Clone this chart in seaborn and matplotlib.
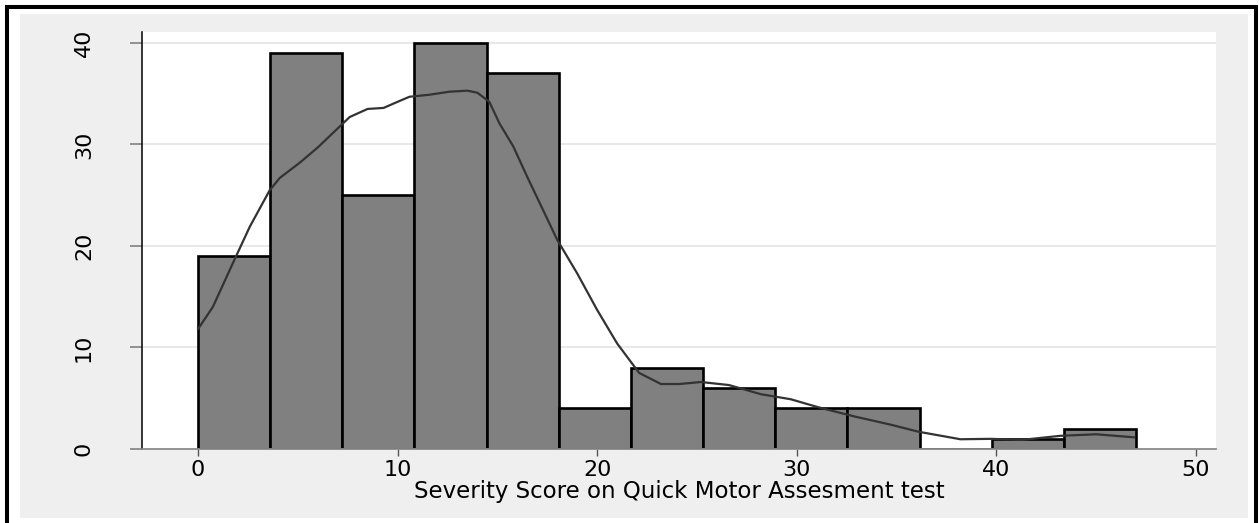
import numpy as np
import pandas as pd
import seaborn as sns
import matplotlib.pyplot as plt
from matplotlib.patches import Rectangle

# Histogram: 13 bins between min and max score
score_min, score_max, n_bins = 0, 47, 13
counts = [19, 39, 25, 40, 37, 4, 8, 6, 4, 4, 0, 1, 2]

# Kernel density overlay (scaled to frequency)
kde_x = [0.0, 0.75, 1.75, 2.6, 3.6, 4.1, 5.1, 6.0, 6.8, 7.6, 8.5, 9.3, 10.0,
         10.6, 11.6, 12.6, 13.5, 14.0, 14.6, 15.1, 15.8, 16.5, 17.3, 18.0,
         19.0, 20.0, 21.0, 22.1, 23.2, 24.1, 25.2, 26.6, 28.2, 29.7, 31.1,
         32.9, 34.7, 36.1, 38.2, 39.7, 41.3, 43.2, 45.0, 46.9]
kde_y = [11.8, 14.0, 18.3, 21.9, 25.5, 26.7, 28.2, 29.7, 31.2, 32.7, 33.5, 33.6, 34.2,
         34.7, 34.9, 35.2, 35.3, 35.1, 34.2, 32.1, 29.8, 26.8, 23.5, 20.6,
         17.3, 13.7, 10.4, 7.5, 6.4, 6.4, 6.6, 6.3, 5.4, 4.9, 4.1,
         3.2, 2.4, 1.7, 0.96, 1.0, 0.9, 1.3, 1.45, 1.15]

x_ticks = [0, 10, 20, 30, 40, 50]
y_ticks = [0, 10, 20, 30, 40]
x_label = "Severity Score on Quick Motor Assesment test"

sns.set_style("white")
plt.rcParams['font.family'] = ['DejaVu Sans']
plt.rcParams['text.color'] = 'black'
plt.rcParams['axes.labelcolor'] = 'black'
plt.rcParams['xtick.labelcolor'] = 'black'
plt.rcParams['ytick.labelcolor'] = 'black'

fig = plt.figure(figsize=(12.59, 5.23), dpi=100)
fig.patch.set_facecolor("white")

# Stata-like outer frame and light grey graph region
W, H = 1259, 523
fig.add_artist(Rectangle((20 / W, 1 - 518 / H), (1248 - 20) / W, (518 - 14) / H,
                         transform=fig.transFigure, facecolor="#efefef",
                         edgecolor="none", zorder=0))
fig.add_artist(Rectangle((7 / W, -0.1), (1255.5 - 7) / W, 1 - 7 / H + 0.1,
                         transform=fig.transFigure, fill=False,
                         edgecolor="black", linewidth=2.9, zorder=1, clip_on=False))

ax = fig.add_axes([142 / W, 1 - 449 / H, (1216 - 142) / W, (449 - 32) / H])
ax.set_facecolor("white")
ax.set_axisbelow(True)

bin_width = (score_max - score_min) / n_bins
hist_df = pd.DataFrame({
    "score": score_min + bin_width * (np.arange(n_bins) + 0.5),
    "freq": counts,
})
sns.histplot(data=hist_df, x="score", weights="freq", bins=n_bins,
             binrange=(score_min, score_max), stat="count",
             color="#808080", alpha=1, edgecolor="black", linewidth=1.9, ax=ax)
sns.lineplot(x=kde_x, y=kde_y, color="#333333", linewidth=1.6, ax=ax)

ax.set_xlim(-2.8, 51.0)
ax.set_ylim(0, 41.08)
ax.set_xticks(x_ticks)
ax.set_yticks(y_ticks)
ax.set_xticklabels([str(t) for t in x_ticks], fontsize=16)
ax.set_yticklabels([str(t) for t in y_ticks], fontsize=16, rotation=90, va="center")

for y in y_ticks[1:]:
    ax.axhline(y, color="#e6e6e6", linewidth=1.3, zorder=0)

for s in ["top", "right"]:
    ax.spines[s].set_visible(False)
ax.spines["left"].set_color("black")
ax.spines["left"].set_linewidth(1.1)
ax.spines["bottom"].set_color("#8a8a8a")
ax.spines["bottom"].set_linewidth(1.3)

ax.tick_params(axis="y", direction="out", length=8.6, width=1.1, color="#777777",
               pad=26, left=True)
ax.tick_params(axis="x", direction="out", length=5, width=1.0, color="#555555",
               pad=3, bottom=True)

ax.set_xlabel(x_label, fontsize=16.5, labelpad=0)
ax.set_ylabel("")

fig.savefig("out.png", dpi=100)
